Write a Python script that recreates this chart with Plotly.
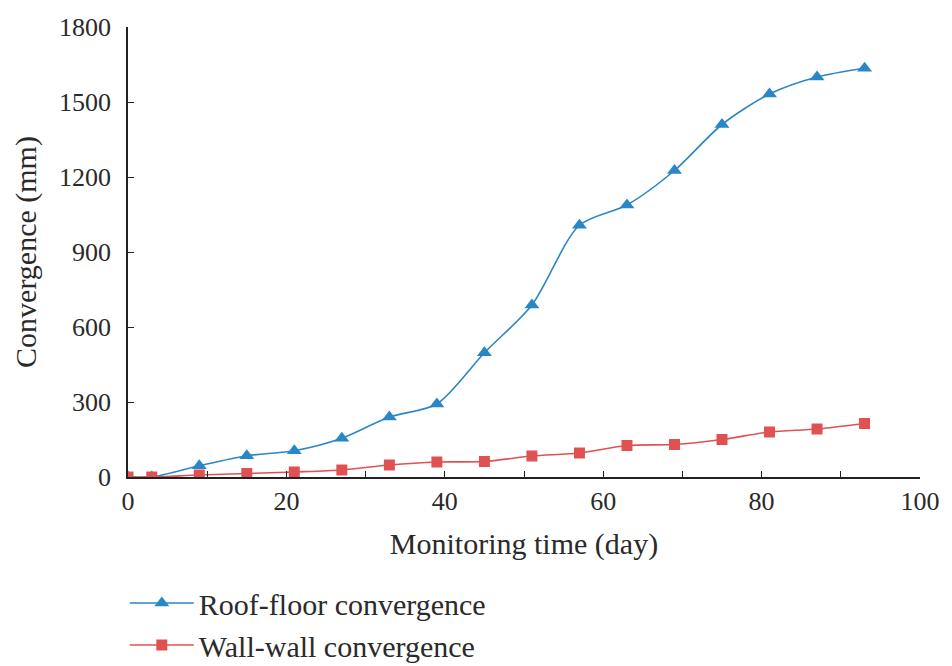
import plotly.graph_objects as go

days = [0, 3, 9, 15, 21, 27, 33, 39, 45, 51, 57, 63, 69, 75, 81, 87, 93]
roof_floor = [0, 0, 45, 85, 105, 155, 240, 292, 497, 688, 1007, 1088, 1226, 1410, 1532, 1600, 1635]
wall_wall = [0, 0, 8, 14, 20, 28, 48, 60, 62, 84, 96, 126, 130, 150, 180, 192, 214]

blue = "#2b86c6"
red = "#e05252"
font_family = "Liberation Serif"
txt = "#2a2a2a"

fig = go.Figure()
fig.add_trace(go.Scatter(
    x=days, y=roof_floor, name="Roof-floor convergence", legendgroup="a",
    mode="lines+markers", line=dict(color=blue, width=1.6, shape="spline", smoothing=0.8),
    marker=dict(symbol="triangle-up", size=13, color=blue),
))
fig.add_trace(go.Scatter(
    x=days, y=wall_wall, name="Wall-wall convergence", legendgroup="b",
    mode="lines+markers", line=dict(color=red, width=1.6, shape="spline", smoothing=0.8),
    marker=dict(symbol="square", size=11, color=red),
))

fig.update_layout(
    width=952, height=666,
    margin=dict(l=128, r=32, t=27, b=189),
    plot_bgcolor="white", paper_bgcolor="white",
    font=dict(family=font_family, size=26, color=txt),
    showlegend=True,
    legend=dict(x=-0.004, xref="paper", y=(666 - 577) / 666, yref="container",
                xanchor="left", yanchor="top",
                font=dict(family=font_family, size=30, color=txt),
                bgcolor="rgba(0,0,0,0)", traceorder="grouped", tracegroupgap=0,
                itemwidth=64),
)
fig.update_xaxes(
    range=[0, 100], tickvals=[0, 20, 40, 60, 80, 100],
    ticks="inside", ticklen=6, tickcolor="#222",
    minor=dict(tickvals=[10, 30, 50, 70, 90], ticks="inside", ticklen=6, tickcolor="#222"),
    showline=True, linecolor="#222", linewidth=1.5, showgrid=False, zeroline=False,
    title=dict(text="Monitoring time (day)", font=dict(size=30), standoff=18),
    tickfont=dict(size=26), ticklabelstandoff=0, automargin=False,
)
fig.update_yaxes(
    range=[0, 1800], tickvals=[0, 300, 600, 900, 1200, 1500, 1800],
    ticks="inside", ticklen=6, tickcolor="#222",
    showline=True, linecolor="#222", linewidth=1.5, showgrid=False, zeroline=False,
    title=dict(text="Convergence (mm)", font=dict(size=30), standoff=14),
    tickfont=dict(size=26), ticklabelstandoff=10, automargin=False,
)

fig.write_html("out.html")
